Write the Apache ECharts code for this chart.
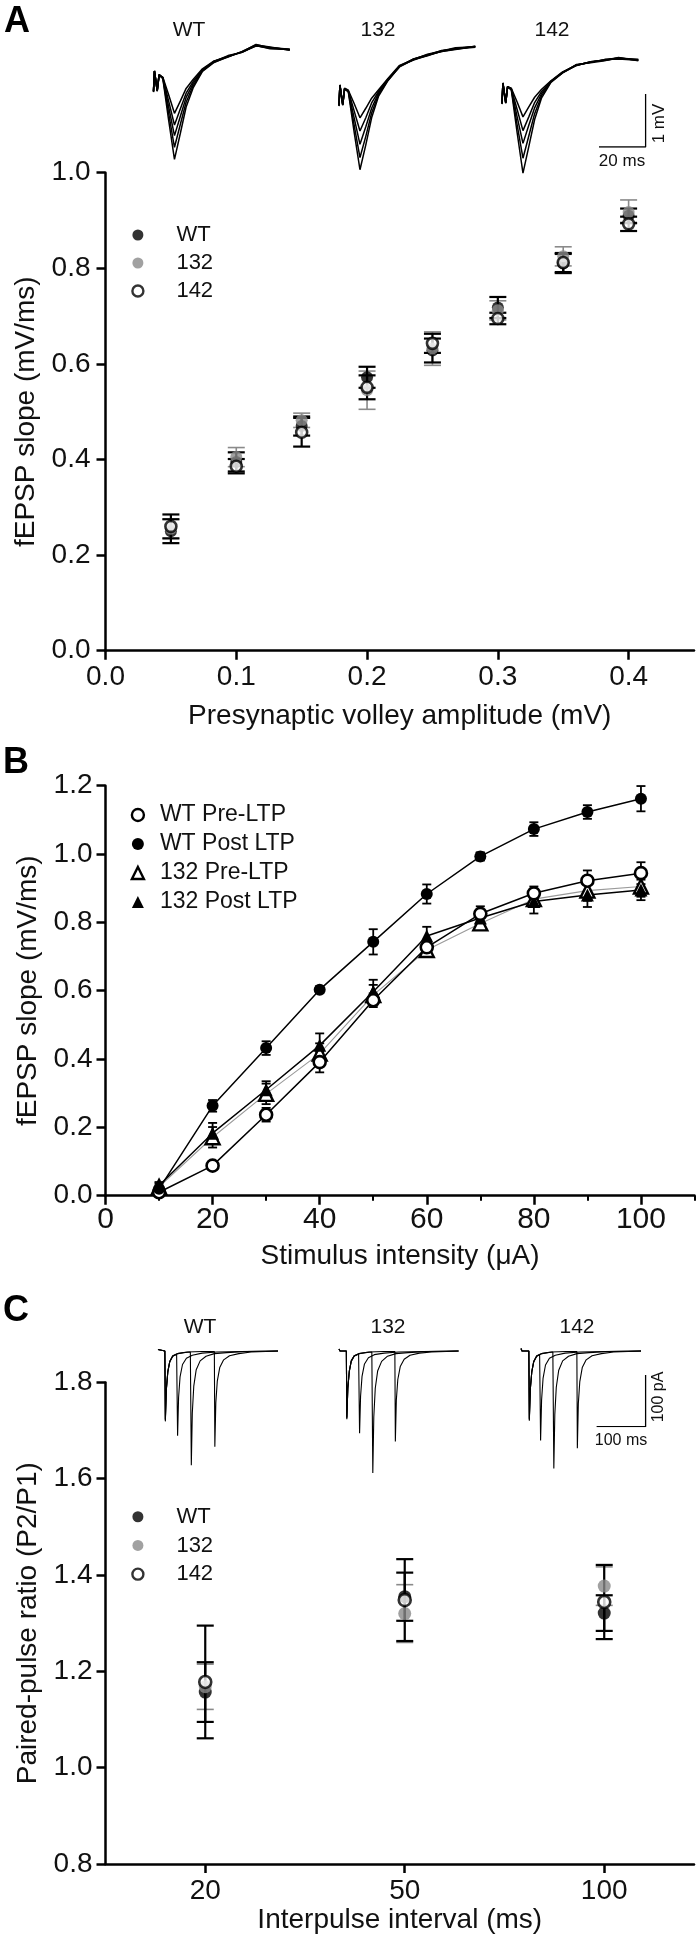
<!DOCTYPE html>
<html><head><meta charset="utf-8">
<script src="https://cdn.jsdelivr.net/npm/echarts@6/dist/echarts.min.js"></script>
<style>html,body{margin:0;padding:0;background:#fff}#c{width:698px;height:1948px}</style>
</head><body><div id="c"></div>
<script>
// ---------------- Panel A : input-output ----------------
const aX      = [0.05, 0.10, 0.15, 0.20, 0.25, 0.30, 0.35, 0.40];
const aWT     = [0.250, 0.395, 0.470, 0.572, 0.628, 0.718, 0.810, 0.910];
const aWTerr  = [0.025, 0.020, 0.020, 0.022, 0.025, 0.022, 0.020, 0.015];
const a132    = [0.255, 0.405, 0.482, 0.545, 0.632, 0.712, 0.825, 0.918];
const a132err = [0.020, 0.020, 0.015, 0.040, 0.035, 0.020, 0.020, 0.025];
const a142    = [0.260, 0.386, 0.457, 0.551, 0.643, 0.695, 0.812, 0.893];
const a142err = [0.025, 0.015, 0.030, 0.025, 0.020, 0.012, 0.020, 0.015];
const aXTicks = [0, 0.1, 0.2, 0.3, 0.4];

// ---------------- Panel B : LTP input-output ----------------
const bX          = [10, 20, 30, 40, 50, 60, 70, 80, 90, 100];
const bWTpre      = [0.010, 0.088, 0.237, 0.391, 0.572, 0.727, 0.825, 0.885, 0.922, 0.944];
const bWTpreErr   = [0.005, 0.008, 0.020, 0.030, 0.020, 0.022, 0.022, 0.020, 0.030, 0.032];
const bWTpost     = [0.020, 0.263, 0.432, 0.603, 0.743, 0.883, 0.993, 1.073, 1.123, 1.162];
const bWTpostErr  = [0.005, 0.017, 0.020, 0.010, 0.037, 0.028, 0.012, 0.020, 0.020, 0.037];
const b132pre     = [0.026, 0.171, 0.298, 0.416, 0.587, 0.719, 0.797, 0.868, 0.893, 0.905];
const b132preErr  = [0.010, 0.030, 0.030, 0.030, 0.030, 0.020, 0.015, 0.020, 0.030, 0.030];
const b132post    = [0.030, 0.183, 0.310, 0.440, 0.597, 0.760, 0.813, 0.861, 0.880, 0.895];
const b132postErr = [0.010, 0.030, 0.025, 0.035, 0.035, 0.027, 0.020, 0.035, 0.035, 0.030];
const bXTicks     = [0, 20, 40, 60, 80, 100];
const bXMinor     = [10, 30, 50, 70, 90, 110];

// ---------------- Panel C : paired-pulse ratio ----------------
const cCats    = ['20', '50', '100'];
const cPos     = [1, 2, 3];
const cWT      = [1.157, 1.355, 1.321];
const cWTerr   = [0.062, 0.050, 0.037];
const c132     = [1.168, 1.320, 1.377];
const c132err  = [0.047, 0.060, 0.040];
const c142     = [1.178, 1.348, 1.344];
const c142err  = [0.117, 0.085, 0.077];

// ---------------- Inset traces, panel A (time ms, mV) ----------------
const tA = [0, 0.4, 1.2, 1.6, 2.4, 4, 6.5, 9, 11.5, 14, 17, 21, 26, 32, 38, 44, 50, 58.5];
const trWT = [
  [-0.37,0.02,0.02,-0.35,-0.05,-0.10,-0.43,-0.78,-0.55,-0.31,-0.14,0.06,0.21,0.29,0.37,0.50,0.45,0.42],
  [-0.36,0.02,0.01,-0.34,-0.06,-0.10,-0.55,-1.00,-0.70,-0.40,-0.18,0.04,0.20,0.30,0.38,0.49,0.46,0.43],
  [-0.38,0.01,0.02,-0.36,-0.05,-0.11,-0.66,-1.20,-0.84,-0.48,-0.22,0.03,0.19,0.28,0.39,0.51,0.47,0.41],
  [-0.37,0.02,0.01,-0.35,-0.06,-0.12,-0.78,-1.42,-0.99,-0.57,-0.26,0.02,0.20,0.31,0.37,0.50,0.44,0.43],
  [-0.36,0.02,0.02,-0.36,-0.05,-0.12,-0.91,-1.65,-1.16,-0.66,-0.30,0.01,0.18,0.29,0.38,0.52,0.46,0.42]
];
const tr132 = [
  [-0.36,0.02,0.02,-0.34,-0.04,-0.08,-0.33,-0.60,-0.42,-0.23,-0.07,0.14,0.39,0.50,0.57,0.66,0.71,0.74],
  [-0.37,0.01,0.02,-0.35,-0.05,-0.09,-0.47,-0.85,-0.60,-0.32,-0.10,0.13,0.37,0.51,0.59,0.65,0.69,0.75],
  [-0.36,0.02,0.01,-0.36,-0.05,-0.10,-0.60,-1.10,-0.77,-0.42,-0.13,0.12,0.38,0.49,0.58,0.67,0.70,0.73],
  [-0.38,0.02,0.02,-0.35,-0.06,-0.10,-0.74,-1.35,-0.95,-0.51,-0.16,0.11,0.36,0.50,0.60,0.66,0.72,0.74],
  [-0.37,0.01,0.02,-0.36,-0.05,-0.11,-0.87,-1.58,-1.11,-0.60,-0.19,0.10,0.37,0.51,0.58,0.65,0.70,0.75]
];
const tr142 = [
  [-0.36,0.02,0.02,-0.34,-0.05,-0.08,-0.34,-0.62,-0.43,-0.25,-0.10,0.06,0.23,0.36,0.41,0.46,0.49,0.45],
  [-0.37,0.01,0.02,-0.35,-0.05,-0.09,-0.48,-0.88,-0.62,-0.35,-0.14,0.05,0.22,0.35,0.42,0.45,0.48,0.46],
  [-0.36,0.02,0.01,-0.36,-0.06,-0.10,-0.62,-1.12,-0.78,-0.45,-0.18,0.05,0.21,0.37,0.40,0.44,0.50,0.44],
  [-0.38,0.02,0.02,-0.35,-0.05,-0.10,-0.77,-1.40,-0.98,-0.56,-0.22,0.04,0.22,0.36,0.41,0.46,0.47,0.45],
  [-0.37,0.01,0.02,-0.36,-0.05,-0.11,-0.92,-1.68,-1.18,-0.67,-0.26,0.03,0.21,0.35,0.42,0.45,0.49,0.46]
];

// ---------------- Inset traces, panel C ([time ms, pA]) ----------------
const ppWT = [
  [[0,3],[1.5,6],[2,0],[14,0],[15,-134],[17,-75],[20,-40],[24,-20],[30,-10],[38,-6],[39,-6],[40,-164],[42,-90],[45,-50],[50,-26],[58,-14],[70,-8],[90,-4],[120,-2],[170,-1],[245,0]],
  [[0,3],[1.5,6],[2,0],[14,0],[15,-132],[17,-74],[20,-41],[24,-21],[30,-10],[40,-5],[52,-3],[66,-2],[67,-2],[68,-221],[70,-120],[73,-68],[78,-36],[86,-19],[98,-10],[115,-5],[140,-3],[180,-1],[245,0]],
  [[0,3],[1.5,6],[2,0],[14,0],[15,-136],[17,-76],[20,-40],[24,-20],[30,-9],[40,-5],[60,-2],[90,-1],[115,-1],[116,-185],[118,-100],[121,-58],[126,-32],[134,-17],[146,-9],[165,-5],[190,-2],[220,-1],[245,0]]
];
const pp132 = [
  [[0,4],[1.5,7],[2,0],[15,0],[16,-130],[18,-72],[21,-39],[25,-19],[31,-9],[40,-6],[41,-6],[42,-159],[44,-88],[47,-49],[52,-25],[60,-13],[72,-7],[92,-4],[122,-2],[172,-1],[244,0]],
  [[0,4],[1.5,7],[2,0],[15,0],[16,-128],[18,-71],[21,-40],[25,-20],[31,-10],[41,-5],[54,-3],[67,-2],[68,-2],[69,-236],[71,-128],[74,-72],[79,-38],[87,-20],[99,-10],[116,-5],[141,-3],[181,-1],[244,0]],
  [[0,4],[1.5,7],[2,0],[15,0],[16,-132],[18,-73],[21,-39],[25,-19],[31,-9],[41,-5],[61,-2],[91,-1],[114,-1],[115,-175],[117,-95],[120,-55],[125,-30],[133,-16],[145,-8],[164,-4],[189,-2],[219,-1],[244,0]]
];
const pp142 = [
  [[0,5],[1.5,8],[2,0],[16,0],[17,-133],[19,-74],[22,-40],[26,-20],[32,-10],[38,-7],[39,-7],[40,-173],[42,-95],[45,-53],[50,-27],[58,-14],[70,-8],[90,-4],[120,-2],[170,-1],[245,0]],
  [[0,5],[1.5,8],[2,0],[16,0],[17,-131],[19,-73],[22,-41],[26,-21],[32,-10],[42,-5],[54,-3],[65,-2],[66,-2],[67,-227],[69,-123],[72,-70],[77,-37],[85,-19],[97,-10],[114,-5],[139,-3],[179,-1],[245,0]],
  [[0,5],[1.5,8],[2,0],[16,0],[17,-135],[19,-75],[22,-40],[26,-20],[32,-9],[42,-5],[62,-2],[92,-1],[114,-1],[115,-188],[117,-102],[120,-59],[125,-32],[133,-17],[145,-9],[164,-5],[189,-2],[219,-1],[245,0]]
];

// scale bars
const scaleA = [[0, 0], [20, 0], [20, 1]];     // 20 ms, 1 mV
const scaleC = [[0, 0], [100, 0], [100, 100]]; // 100 ms, 100 pA

const FONT = "'Liberation Sans', Arial, Helvetica, sans-serif";
const INK = '#111';
const GREY = '#8a8a8a';

function errData(xs, ys, es) { return xs.map((x, i) => [x, ys[i] - es[i], ys[i] + es[i]]); }
function errSeries(xi, yi, data, cap, color, width, z) {
  return {
    type: 'custom', xAxisIndex: xi, yAxisIndex: yi, data: data, silent: true, z: z || 2,
    encode: { x: 0, y: [1, 2] },
    renderItem: function (params, api) {
      const x = api.value(0), lo = api.value(1), hi = api.value(2);
      const a = api.coord([x, hi]), b = api.coord([x, lo]);
      const st = { stroke: color, lineWidth: width };
      return { type: 'group', children: [
        { type: 'line', shape: { x1: a[0], y1: a[1], x2: b[0], y2: b[1] }, style: st },
        { type: 'line', shape: { x1: a[0] - cap, y1: a[1], x2: a[0] + cap, y2: a[1] }, style: st },
        { type: 'line', shape: { x1: b[0] - cap, y1: b[1], x2: b[0] + cap, y2: b[1] }, style: st }
      ]};
    }
  };
}
function pts(xs, ys) { return xs.map((x, i) => [x, ys[i]]); }
function trace(xi, yi, data, w) {
  return { type: 'line', xAxisIndex: xi, yAxisIndex: yi, data: data, symbol: 'none', silent: true,
    lineStyle: { color: '#000', width: w }, z: 1 };
}
const tickLabel = (fs) => ({ color: INK, fontSize: fs, fontFamily: FONT });
const axLine = { show: true, lineStyle: { color: '#000', width: 2.5 } };
const hidden = (min, max, gi) => ({ type: 'value', gridIndex: gi, min: min, max: max, show: false });

const grids = [
  { left: 105.5, top: 172.7, width: 588.5, height: 478 },   // 0 A
  { left: 105.5, top: 785.7, width: 589,   height: 410 },   // 1 B
  { left: 105.5, top: 1382.4, width: 588.5, height: 481.6 },// 2 C
  { left: 153.5, top: 19, width: 139.8, height: 159 },      // 3 A inset WT
  { left: 339,   top: 33, width: 139.8, height: 159 },      // 4 A inset 132
  { left: 502,   top: 31, width: 139.8, height: 159 },      // 5 A inset 142
  { left: 599,   top: 94, width: 46.6, height: 53 },        // 6 A scale
  { left: 158,   top: 1340.7, width: 122.5, height: 139.6 },// 7 C inset WT
  { left: 339,   top: 1340.7, width: 122.5, height: 139.6 },// 8 C inset 132
  { left: 521,   top: 1340.7, width: 122.5, height: 139.6 },// 9 C inset 142
  { left: 596.6, top: 1375, width: 49, height: 51.7 }       // 10 C scale
].map(g => Object.assign({ containLabel: false, outerBoundsMode: 'none' }, g));

const nameStyle = { color: INK, fontSize: 28, fontFamily: FONT };

const xAxes = [
  { type: 'value', gridIndex: 0, position: 'bottom', min: 0, max: 0.45, axisLine: axLine, splitLine: { show: false },
    axisTick: { length: 9, lineStyle: { width: 2.5, color: '#000' }, customValues: aXTicks },
    axisLabel: Object.assign(tickLabel(28), { margin: 13, customValues: aXTicks, formatter: v => v.toFixed(1) }),
    name: 'Presynaptic volley amplitude (mV)', nameLocation: 'middle', nameGap: 52, nameTextStyle: nameStyle },
  { type: 'value', gridIndex: 1, position: 'bottom', min: 0, max: 110, axisLine: axLine, splitLine: { show: false },
    axisTick: { length: 9, lineStyle: { width: 2.5, color: '#000' }, customValues: bXTicks },
    axisLabel: Object.assign(tickLabel(30), { margin: 9, customValues: bXTicks, formatter: v => String(v) }),
    name: 'Stimulus intensity (\u03BCA)', nameLocation: 'middle', nameGap: 47, nameTextStyle: nameStyle },
  { type: 'value', gridIndex: 1, position: 'bottom', offset: 0, min: 0, max: 110, axisLine: { show: false }, splitLine: { show: false },
    axisTick: { length: 5, lineStyle: { width: 2, color: '#000' }, customValues: bXMinor },
    axisLabel: { show: false } },
  { type: 'value', gridIndex: 2, position: 'bottom', min: 0.5, max: 3.45, axisLine: axLine, splitLine: { show: false },
    axisTick: { length: 9, lineStyle: { width: 2.5, color: '#000' }, customValues: cPos },
    axisLabel: Object.assign(tickLabel(28), { margin: 13, customValues: cPos, formatter: v => cCats[Math.round(v) - 1] }),
    name: 'Interpulse interval (ms)', nameLocation: 'middle', nameGap: 40, nameTextStyle: nameStyle },
  hidden(0, 60, 3), hidden(0, 60, 4), hidden(0, 60, 5), hidden(0, 20, 6),
  hidden(0, 250, 7), hidden(0, 250, 8), hidden(0, 250, 9), hidden(0, 100, 10)
];
const yAxes = [
  { type: 'value', gridIndex: 0, min: 0, max: 1.0, interval: 0.2, axisLine: axLine, splitLine: { show: false },
    axisTick: { show: true, length: 9, lineStyle: { width: 2.5, color: '#000' } },
    axisLabel: Object.assign(tickLabel(28), { margin: 15, formatter: v => v.toFixed(1) }),
    name: 'fEPSP slope (mV/ms)', nameLocation: 'middle', nameRotate: 90, nameGap: 62, nameTextStyle: nameStyle },
  { type: 'value', gridIndex: 1, min: 0, max: 1.2, interval: 0.2, axisLine: axLine, splitLine: { show: false },
    axisTick: { show: true, length: 9, lineStyle: { width: 2.5, color: '#000' } },
    axisLabel: Object.assign(tickLabel(28), { margin: 13, formatter: v => v.toFixed(1) }),
    name: 'fEPSP slope (mV/ms)', nameLocation: 'middle', nameRotate: 90, nameGap: 60, nameTextStyle: nameStyle },
  { type: 'value', gridIndex: 2, min: 0.8, max: 1.8, interval: 0.2, axisLine: axLine, splitLine: { show: false },
    axisTick: { show: true, length: 9, lineStyle: { width: 2.5, color: '#000' } },
    axisLabel: Object.assign(tickLabel(28), { margin: 13, formatter: v => v.toFixed(1) }),
    name: 'Paired-pulse ratio (P2/P1)', nameLocation: 'middle', nameRotate: 90, nameGap: 62, nameTextStyle: nameStyle },
  hidden(-2, 1, 3), hidden(-2, 1, 4), hidden(-2, 1, 5), hidden(0, 1, 6),
  hidden(-250, 20, 7), hidden(-250, 20, 8), hidden(-250, 20, 9), hidden(0, 100, 10)
];

const openStyle = { color: '#fff', borderColor: '#000', borderWidth: 2.6 };
const series = [];

// ---- Panel A ----
series.push(errSeries(0, 0, errData(aX, a132, a132err), 8.5, GREY, 1.6, 2));
series.push(errSeries(0, 0, errData(aX, aWT, aWTerr), 8.5, '#000', 2.2, 2));
series.push(errSeries(0, 0, errData(aX, a142, a142err), 8.5, '#000', 2.2, 2));
series.push({ type: 'scatter', name: 'WT', xAxisIndex: 0, yAxisIndex: 0, data: pts(aX, aWT), symbol: 'circle', symbolSize: 12, itemStyle: { color: '#000' }, z: 3 });
series.push({ type: 'scatter', name: '132', xAxisIndex: 0, yAxisIndex: 0, data: pts(aX, a132), symbol: 'circle', symbolSize: 12, itemStyle: { color: GREY }, z: 3 });
series.push({ type: 'scatter', name: '142', xAxisIndex: 0, yAxisIndex: 0, data: pts(aX, a142), symbol: 'circle', symbolSize: 11, itemStyle: openStyle, z: 4 });

// ---- Panel B ----
series.push(errSeries(1, 1, errData(bX, b132pre, b132preErr), 4.5, '#000', 1.8, 2));
series.push(errSeries(1, 1, errData(bX, b132post, b132postErr), 4.5, '#000', 1.8, 2));
series.push(errSeries(1, 1, errData(bX, bWTpre, bWTpreErr), 4.5, '#000', 1.8, 2));
series.push(errSeries(1, 1, errData(bX, bWTpost, bWTpostErr), 4.5, '#000', 1.8, 2));
series.push({ type: 'line', name: '132 Pre-LTP', xAxisIndex: 1, yAxisIndex: 1, data: pts(bX, b132pre), symbol: 'triangle', symbolSize: 14,
  lineStyle: { color: '#9a9a9a', width: 1.1 }, itemStyle: { color: '#fff', borderColor: '#000', borderWidth: 2.4 }, z: 3 });
series.push({ type: 'line', name: '132 Post LTP', xAxisIndex: 1, yAxisIndex: 1, data: pts(bX, b132post), symbol: 'triangle', symbolSize: 13,
  lineStyle: { color: '#000', width: 1.5 }, itemStyle: { color: '#000' }, z: 3 });
series.push({ type: 'line', name: 'WT Pre-LTP', xAxisIndex: 1, yAxisIndex: 1, data: pts(bX, bWTpre), symbol: 'circle', symbolSize: 12,
  lineStyle: { color: '#000', width: 1.5 }, itemStyle: openStyle, z: 4 });
series.push({ type: 'line', name: 'WT Post LTP', xAxisIndex: 1, yAxisIndex: 1, data: pts(bX, bWTpost), symbol: 'circle', symbolSize: 12,
  lineStyle: { color: '#000', width: 1.5 }, itemStyle: { color: '#000' }, z: 4 });

// ---- Panel C ----
series.push(errSeries(3, 2, errData(cPos, c132, c132err), 8.5, GREY, 1.6, 2));
series.push(errSeries(3, 2, errData(cPos, cWT, cWTerr), 8.5, '#000', 2.2, 2));
series.push(errSeries(3, 2, errData(cPos, c142, c142err), 8.5, '#000', 2.2, 2));
series.push({ type: 'scatter', name: 'WT', xAxisIndex: 3, yAxisIndex: 2, data: pts(cPos, cWT), symbol: 'circle', symbolSize: 13, itemStyle: { color: '#000' }, z: 3 });
series.push({ type: 'scatter', name: '132', xAxisIndex: 3, yAxisIndex: 2, data: pts(cPos, c132), symbol: 'circle', symbolSize: 13, itemStyle: { color: GREY }, z: 3 });
series.push({ type: 'scatter', name: '142', xAxisIndex: 3, yAxisIndex: 2, data: pts(cPos, c142), symbol: 'circle', symbolSize: 12, itemStyle: openStyle, z: 4 });

// ---- Insets ----
trWT.forEach(v => series.push(trace(4, 3, pts(tA, v), 1.5)));
tr132.forEach(v => series.push(trace(5, 4, pts(tA, v), 1.5)));
tr142.forEach(v => series.push(trace(6, 5, pts(tA, v), 1.5)));
series.push(trace(7, 6, scaleA, 1.3));
ppWT.forEach(d => series.push(trace(8, 7, d, 1.1)));
pp132.forEach(d => series.push(trace(9, 8, d, 1.1)));
pp142.forEach(d => series.push(trace(10, 9, d, 1.1)));
series.push(trace(11, 10, scaleC, 1.3));

const legText = (fs, lh, gap) => ({ color: INK, fontSize: fs, lineHeight: lh, fontFamily: FONT,
  rich: { s: { width: gap, fontSize: fs, lineHeight: lh } } });
const legBase = { orient: 'vertical', padding: 0, itemGap: 0, selectedMode: false, symbolKeepAspect: true,
  formatter: n => '{s|}' + n };
const legends = [
  Object.assign({}, legBase, { left: 131.2, top: 221, itemWidth: 11, itemHeight: 11, textStyle: legText(22, 28, 28),
    data: [ { name: 'WT', icon: 'circle', itemStyle: { color: '#000' } },
            { name: '132', icon: 'circle', itemStyle: { color: GREY } },
            { name: '142', icon: 'circle', itemStyle: { color: '#fff', borderColor: '#000', borderWidth: 2.4 } } ] }),
  Object.assign({}, legBase, { left: 130.7, top: 800.5, itemWidth: 12, itemHeight: 12, textStyle: legText(23, 29, 11),
    data: [ { name: 'WT Pre-LTP', icon: 'circle', itemStyle: { color: '#fff', borderColor: '#000', borderWidth: 2.4 } },
            { name: 'WT Post LTP', icon: 'circle', itemStyle: { color: '#000', borderWidth: 0 } },
            { name: '132 Pre-LTP', icon: 'triangle', itemStyle: { color: '#fff', borderColor: '#000', borderWidth: 2.4 } },
            { name: '132 Post LTP', icon: 'triangle', itemStyle: { color: '#000', borderWidth: 0 } } ] }),
  Object.assign({}, legBase, { left: 131.2, top: 1502.4, itemWidth: 11, itemHeight: 11, textStyle: legText(22, 28.7, 28),
    data: [ { name: 'WT', icon: 'circle', itemStyle: { color: '#000' } },
            { name: '132', icon: 'circle', itemStyle: { color: GREY } },
            { name: '142', icon: 'circle', itemStyle: { color: '#fff', borderColor: '#000', borderWidth: 2.4 } } ] })
];

const txt = (x, y, s, size, opts) => Object.assign({ type: 'text', x: x, y: y, silent: true,
  style: Object.assign({ text: s, x: 0, y: 0, fill: INK, fontSize: size, fontFamily: FONT, align: 'center', verticalAlign: 'middle' }, (opts || {}).style || {}) },
  (opts || {}).el || {});
const graphics = [
  txt(17, 22, 'A', 36, { style: { fontWeight: 'bold', fill: '#000' } }),
  txt(16, 763, 'B', 36, { style: { fontWeight: 'bold', fill: '#000' } }),
  txt(16, 1311, 'C', 36, { style: { fontWeight: 'bold', fill: '#000' } }),
  txt(189, 30, 'WT', 21), txt(378, 30, '132', 21), txt(552, 30, '142', 21),
  txt(622, 161, '20 ms', 17),
  txt(659, 123.5, '1 mV', 17, { el: { rotation: Math.PI / 2 } }),
  txt(200, 1327, 'WT', 21), txt(388, 1327, '132', 21), txt(577, 1327, '142', 21),
  txt(621, 1441, '100 ms', 16),
  txt(659, 1397, '100 pA', 16, { el: { rotation: Math.PI / 2 } })
];

const chart = echarts.init(document.getElementById('c'), null, { renderer: 'canvas', width: 698, height: 1948 });
chart.setOption({
  animation: false,
  backgroundColor: '#fff',
  textStyle: { fontFamily: FONT },
  grid: grids,
  xAxis: xAxes,
  yAxis: yAxes,
  legend: legends,
  series: series,
  graphic: graphics
});
</script></body></html>
